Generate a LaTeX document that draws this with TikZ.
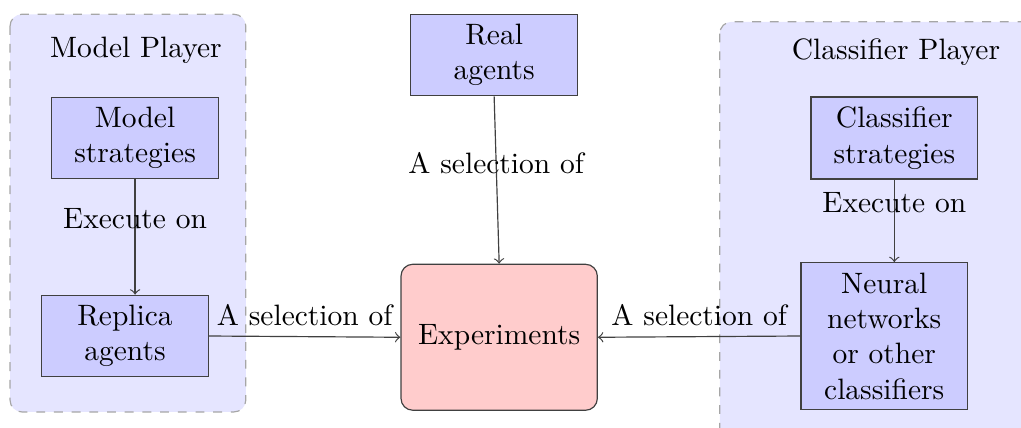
\documentclass[tikz,border=0pt]{standalone}
\usepackage{tikz}
\usetikzlibrary{positioning, calc}

\begin{document}
\begin{tikzpicture}[every node/.style={align=center},
  agentbox/.style={draw=black!75,fill=blue!20,text width=1.75cm},
  playerbox/.style={draw=gray!70,dashed,rounded corners,fill=blue!10},
  link/.style={->,draw=black!75}]
  \clip (0,0) rectangle (12.17,-5.1);
  % player areas
  \draw[playerbox] (0.12,-0.17) rectangle (2.93,-4.91);
  \draw[playerbox] (8.58,-0.26) rectangle (12.6,-5.4);
  \node (mplayer) at (1.62,-0.60) {Model Player};
  \node (cplayer) at (10.68,-0.62) {Classifier Player};
  % boxes
  \node[agentbox] (ms) at (1.61,-1.645) {Model\\ strategies};
  \node[agentbox] (ra) at (1.49,-4.005) {Replica\\ agents};
  \node[agentbox] (real) at (5.89,-0.655) {Real\\ agents};
  \node[draw=black!75,rounded corners,fill=red!20,minimum width=2.34cm,minimum height=1.74cm] (exp) at (5.95,-4.02) {Experiments};
  \node[agentbox] (cs) at (10.66,-1.645) {Classifier\\ strategies};
  \node[agentbox] (nn) at (10.54,-4.005) {Neural\\ networks\\ or other\\ classifiers};
  % connectors
  \draw[link] (ms.south) -- node[pos=0.34]{Execute on} (ms.south |- ra.north);
  \draw[link] (cs.south) -- node[pos=0.28]{Execute on} (cs.south |- nn.north);
  \draw[link] (real.south) -- node[pos=0.4]{A selection of} (exp.north);
  \draw[link] (ra.east) -- node[above]{A selection of} (exp.west);
  \draw[link] (nn.west) -- node[above]{A selection of} (exp.east);
\end{tikzpicture}
\end{document}
